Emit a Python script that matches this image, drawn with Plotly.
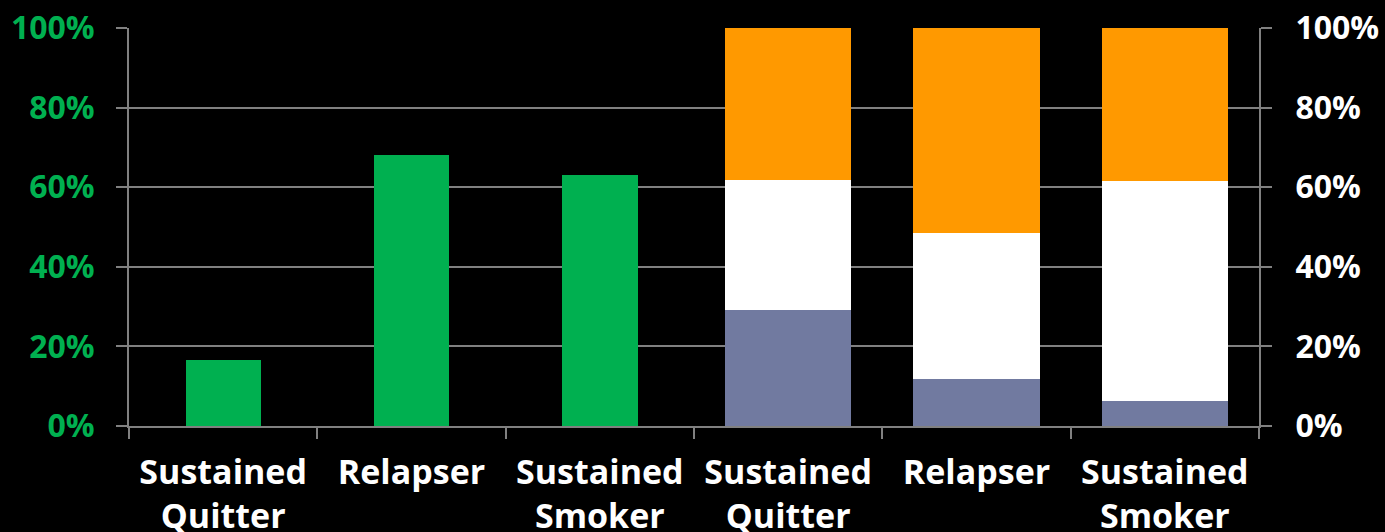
import plotly.graph_objects as go

# Category labels (two groups of the same three smoking trajectories)
categories = ["Sustained<br>Quitter", "Relapser", "Sustained<br>Smoker",
              "Sustained<br>Quitter", "Relapser", "Sustained<br>Smoker"]

# Left panel: single percentage per group
green_pct = [16.6, 68.1, 63.1]

# Right panel: stacked composition (sums to 100%)
blue_pct = [29.1, 11.8, 6.4]
white_pct = [32.7, 36.7, 55.2]
orange_pct = [38.2, 51.5, 38.4]

y_ticks = [0, 20, 40, 60, 80, 100]

FONT = "Open Sans"
GRID = "#808080"

left_x = [0, 1, 2]
right_x = [3, 4, 5]

fig = go.Figure()

fig.add_trace(go.Bar(x=left_x, y=green_pct, width=0.4,
                     marker=dict(color="#00B050", line=dict(width=0)),
                     showlegend=False, hoverinfo="skip"))

for vals, col in [(blue_pct, "#717AA0"), (white_pct, "#FFFFFF"), (orange_pct, "#FF9900")]:
    fig.add_trace(go.Bar(x=right_x, y=vals, width=0.67, yaxis="y2",
                         marker=dict(color=col, line=dict(width=0)),
                         showlegend=False, hoverinfo="skip"))

boundaries = [i - 0.5 for i in range(7)]

fig.update_layout(
    width=1385, height=532,
    paper_bgcolor="black", plot_bgcolor="black",
    margin=dict(l=129, r=126, t=28, b=106),
    barmode="stack",
    font=dict(family=FONT, color="white"),
    xaxis=dict(
        range=[-0.5, 5.5], automargin=False,
        tickvals=list(range(6)), ticktext=categories,
        ticks="", showgrid=False, zeroline=False,
        tickfont=dict(family=FONT, size=34, color="white", weight="bold"),
        ticklabelstandoff=15,
        showline=True, linecolor=GRID, linewidth=2,
        minor=dict(tickvals=boundaries, ticks="outside", ticklen=11,
                   tickcolor=GRID, tickwidth=2, showgrid=False),
    ),
    yaxis=dict(
        range=[0, 100], automargin=False,
        tickvals=y_ticks, ticktext=[f"{v}%" for v in y_ticks],
        ticks="outside", ticklen=11, tickcolor=GRID, tickwidth=2,
        showgrid=True, gridcolor=GRID, gridwidth=2,
        showline=True, linecolor=GRID, linewidth=2, zeroline=False,
        tickfont=dict(family=FONT, size=32, color="#00B050", weight="bold"),
        ticklabelstandoff=15,
    ),
    yaxis2=dict(
        range=[0, 100], automargin=False, overlaying="y", side="right",
        tickvals=y_ticks, ticktext=[f"{v}%" for v in y_ticks],
        ticks="outside", ticklen=11, tickcolor=GRID, tickwidth=2,
        showgrid=False, zeroline=False,
        showline=True, linecolor=GRID, linewidth=2,
        tickfont=dict(family=FONT, size=32, color="white", weight="bold"),
        ticklabelstandoff=17,
    ),
)

fig.write_html("out.html")
